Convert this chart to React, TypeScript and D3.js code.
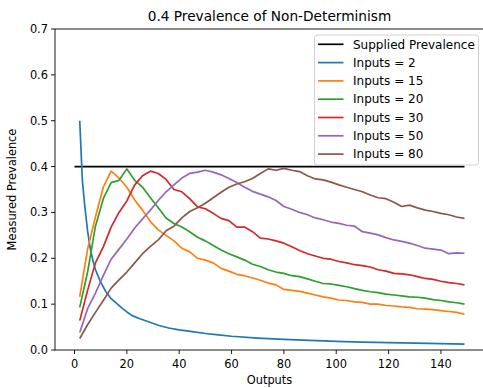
import { useMemo } from 'react';
import * as d3 from 'd3';

const outputs = [
  2, 5, 8, 11, 14, 17, 20, 23, 26, 29, 32, 35, 38, 41, 44, 47, 50, 53, 56, 59, 62, 65, 68, 71, 74,
  77, 80, 83, 86, 89, 92, 95, 98, 101, 104, 107, 110, 113, 116, 119, 122, 125, 128, 131, 134, 137,
  140, 143, 146, 149,
];

const inputs15 = [
  0.116, 0.22, 0.29, 0.355, 0.39, 0.375, 0.355, 0.327, 0.305, 0.28, 0.262, 0.25, 0.238, 0.222,
  0.214, 0.2, 0.196, 0.19, 0.178, 0.172, 0.165, 0.162, 0.157, 0.152, 0.146, 0.142, 0.132, 0.13,
  0.128, 0.124, 0.12, 0.116, 0.113, 0.109, 0.108, 0.105, 0.104, 0.1, 0.1, 0.097, 0.096, 0.094,
  0.093, 0.09, 0.089, 0.088, 0.086, 0.084, 0.082, 0.078,
];
const inputs20 = [
  0.093, 0.17, 0.27, 0.33, 0.365, 0.37, 0.395, 0.37, 0.355, 0.332, 0.31, 0.288, 0.276, 0.268,
  0.258, 0.246, 0.238, 0.228, 0.218, 0.21, 0.203, 0.196, 0.187, 0.182, 0.175, 0.17, 0.167, 0.162,
  0.16, 0.155, 0.15, 0.145, 0.144, 0.141, 0.138, 0.134, 0.13, 0.127, 0.125, 0.122, 0.12, 0.118,
  0.116, 0.115, 0.113, 0.11, 0.108, 0.105, 0.103, 0.1,
];
const inputs30 = [
  0.064, 0.13, 0.19, 0.225, 0.268, 0.3, 0.325, 0.36, 0.38, 0.39, 0.385, 0.372, 0.35, 0.345, 0.33,
  0.312, 0.308, 0.298, 0.287, 0.282, 0.268, 0.268, 0.258, 0.244, 0.242, 0.238, 0.233, 0.225, 0.217,
  0.21, 0.205, 0.2, 0.198, 0.193, 0.19, 0.186, 0.184, 0.181, 0.175, 0.172, 0.167, 0.166, 0.164,
  0.16, 0.156, 0.154, 0.15, 0.147, 0.145, 0.142,
];
const inputs50 = [
  0.038, 0.09, 0.124, 0.162, 0.198, 0.22, 0.242, 0.266, 0.286, 0.305, 0.326, 0.345, 0.36, 0.375,
  0.385, 0.388, 0.392, 0.388, 0.382, 0.374, 0.365, 0.355, 0.346, 0.34, 0.334, 0.326, 0.313, 0.307,
  0.3, 0.295, 0.288, 0.284, 0.279, 0.276, 0.272, 0.27, 0.258, 0.255, 0.251, 0.245, 0.24, 0.237,
  0.233, 0.228, 0.222, 0.22, 0.218, 0.21, 0.212, 0.211,
];
const inputs80 = [
  0.025, 0.055, 0.082, 0.108, 0.135, 0.153, 0.17, 0.19, 0.21, 0.226, 0.24, 0.26, 0.27, 0.288,
  0.302, 0.31, 0.32, 0.332, 0.344, 0.355, 0.362, 0.367, 0.374, 0.385, 0.395, 0.392, 0.396, 0.392,
  0.389, 0.38, 0.373, 0.371, 0.366, 0.36, 0.355, 0.35, 0.345, 0.338, 0.332, 0.33, 0.322, 0.313,
  0.316, 0.31, 0.305, 0.302, 0.298, 0.295, 0.29, 0.287,
];

// Inputs = 2 is smooth, read on a finer grid
const outputs2 = [
  2, 3, 4, 5, 6, 7, 8, 10, 12, 14, 16, 18, 20, 22, 25, 28, 32, 36, 40, 45, 50, 55, 60, 70, 80, 90,
  100, 110, 120, 130, 140, 149,
];
const inputs2 = [
  0.5, 0.37, 0.31, 0.26, 0.222, 0.196, 0.175, 0.148, 0.127, 0.112, 0.102, 0.092, 0.083, 0.075,
  0.068, 0.062, 0.054, 0.048, 0.044, 0.04, 0.036, 0.033, 0.03, 0.026, 0.023, 0.021, 0.019, 0.017,
  0.016, 0.015, 0.014, 0.013,
];

const suppliedX = [0, 149];
const suppliedY = [0.4, 0.4];

const xTicks = [0, 20, 40, 60, 80, 100, 120, 140];
const yTicks = [0, 0.1, 0.2, 0.3, 0.4, 0.5, 0.6, 0.7];

const seriesLabels = [
  'Supplied Prevalence',
  'Inputs = 2',
  'Inputs = 15',
  'Inputs = 20',
  'Inputs = 30',
  'Inputs = 50',
  'Inputs = 80',
];
const colors = ['#000000', '#1f77b4', '#ff7f0e', '#2ca02c', '#d62728', '#9467bd', '#8c564b'];

const width = 483;
const height = 388;
const margin = { top: 29, right: -1, bottom: 38, left: 55 };
const font = 'DejaVu Sans, sans-serif';

export default function App() {
  const x = useMemo(
    () => d3.scaleLinear().domain([-7.45, 156.45]).range([margin.left, width - margin.right]),
    [],
  );
  const y = useMemo(
    () => d3.scaleLinear().domain([0, 0.7]).range([height - margin.bottom, margin.top]),
    [],
  );

  const line = d3
    .line<[number, number]>()
    .x((d) => x(d[0]))
    .y((d) => y(d[1]));

  const series: [number, number][][] = [
    suppliedX.map((v, i) => [v, suppliedY[i]]),
    outputs2.map((v, i) => [v, inputs2[i]]),
    outputs.map((v, i) => [v, inputs15[i]]),
    outputs.map((v, i) => [v, inputs20[i]]),
    outputs.map((v, i) => [v, inputs30[i]]),
    outputs.map((v, i) => [v, inputs50[i]]),
    outputs.map((v, i) => [v, inputs80[i]]),
  ];

  const [x0, x1] = x.range();
  const [y0, y1] = y.range();
  const legendX = 314.5;
  const legendY = 35;
  const rowH = 18.3;

  return (
    <svg
      width={width}
      height={height}
      style={{ position: 'absolute', left: 0, top: 0, fontFamily: font }}
    >
      <rect width={width} height={height} fill="#fff" />
      <defs>
        <clipPath id="plot">
          <rect x={x0} y={y1} width={x1 - x0} height={y0 - y1} />
        </clipPath>
      </defs>
      <text x={(x0 + x1) / 2} y={20.5} textAnchor="middle" fontSize={13.7} fill="#000">
        0.4 Prevalence of Non-Determinism
      </text>

      <g clipPath="url(#plot)">
        {series.map((s, i) => (
          <path
            key={seriesLabels[i]}
            d={line(s)!}
            fill="none"
            stroke={colors[i]}
            strokeWidth={1.7}
            strokeLinejoin="round"
          />
        ))}
      </g>

      {/* axes frame */}
      <rect x={x0} y={y1} width={x1 - x0} height={y0 - y1} fill="none" stroke="#000" strokeWidth={0.9} />

      {xTicks.map((t) => (
        <g key={t} transform={`translate(${x(t)},${y0})`}>
          <line y2={4} stroke="#000" strokeWidth={0.9} />
          <text y={17.5} textAnchor="middle" fontSize={11.4} fill="#000">
            {t}
          </text>
        </g>
      ))}
      {yTicks.map((t) => (
        <g key={t} transform={`translate(${x0},${y(t)})`}>
          <line x2={-4} stroke="#000" strokeWidth={0.9} />
          <text x={-7} dy="0.35em" textAnchor="end" fontSize={11.4} fill="#000">
            {t.toFixed(1)}
          </text>
        </g>
      ))}

      <text x={(x0 + x1) / 2} y={384} textAnchor="middle" fontSize={11.4} fill="#000">
        Outputs
      </text>
      <text
        transform={`translate(16,${(y0 + y1) / 2}) rotate(-90)`}
        textAnchor="middle"
        fontSize={11.4}
        fill="#000"
      >
        Measured Prevalence
      </text>

      {/* legend */}
      <rect
        x={legendX}
        y={legendY}
        width={164}
        height={130}
        rx={2.5}
        fill="#fff"
        fillOpacity={0.8}
        stroke="#cccccc"
        strokeWidth={0.9}
      />
      {seriesLabels.map((label, i) => {
        const cy = legendY + 9.3 + i * rowH;
        return (
          <g key={label}>
            <line
              x1={legendX + 3.5}
              x2={legendX + 29}
              y1={cy}
              y2={cy}
              stroke={colors[i]}
              strokeWidth={1.7}
            />
            <text x={legendX + 38.5} y={cy} dy="0.35em" fontSize={12} fill="#000">
              {label}
            </text>
          </g>
        );
      })}
    </svg>
  );
}
